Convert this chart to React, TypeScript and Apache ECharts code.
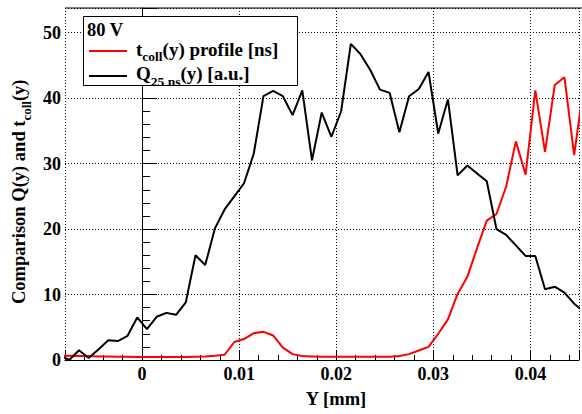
import React, { useEffect, useRef } from 'react';
import * as echarts from 'echarts';

// Bin centres along Y [mm]
const binCenters = [
  -0.0085, -0.0075, -0.0065, -0.0055, -0.0045, -0.0035, -0.0025, -0.0015, -0.0005,
  0.0005, 0.0015, 0.0025, 0.0035, 0.0045, 0.0055, 0.0065, 0.0075, 0.0085, 0.0095,
  0.0105, 0.0115, 0.0125, 0.0135, 0.0145, 0.0155, 0.0165, 0.0175, 0.0185, 0.0195,
  0.0205, 0.0215, 0.0225, 0.0235, 0.0245, 0.0255, 0.0265, 0.0275, 0.0285, 0.0295,
  0.0305, 0.0315, 0.0325, 0.0335, 0.0345, 0.0355, 0.0365, 0.0375, 0.0385, 0.0395,
  0.0405, 0.0415, 0.0425, 0.0435, 0.0445, 0.0455,
];

// t_coll(y) profile [ns]
const tcollProfile = [
  0.65, 0.65, 0.6, 0.6, 0.55, 0.55, 0.5, 0.5, 0.45,
  0.45, 0.45, 0.45, 0.45, 0.45, 0.5, 0.55, 0.65, 0.8, 2.75,
  3.2, 4.1, 4.3, 3.75, 1.9, 0.9, 0.6, 0.55, 0.5, 0.5,
  0.5, 0.5, 0.5, 0.5, 0.5, 0.5, 0.6, 0.9, 1.45, 2.0,
  4.0, 6.2, 10.1, 12.7, 17.1, 21.3, 22.3, 26.5, 33.4, 28.3,
  41.2, 31.8, 42.0, 43.2, 31.3, 42.0,
];

// Q_25ns(y) [a.u.]
const q25ns = [
  0.7, 0.0, 1.5, 0.3, 1.6, 3.0, 2.9, 3.7, 6.5,
  4.7, 6.6, 7.2, 6.9, 8.8, 16.0, 14.5, 20.1, 23.0, 25.0,
  27.0, 31.5, 40.3, 41.1, 40.3, 37.4, 41.2, 30.5, 37.8, 34.1,
  38.0, 48.3, 46.7, 44.3, 41.3, 40.8, 34.8, 40.3, 41.4, 44.0,
  34.6, 39.8, 28.2, 29.7, 28.5, 27.3, 20.0, 19.1, 17.5, 15.9,
  15.9, 10.8, 11.2, 10.3, 8.6, 7.4,
];

const FONT = '"Liberation Serif", "Times New Roman", serif';

const xLabel = (v: number) => {
  const r = Math.round(v * 100);
  if (Math.abs(v * 100 - r) > 1e-6) return '';
  return r === 0 ? '0' : String(r / 100);
};
const yLabel = (v: number) => {
  const r = Math.round(v / 10);
  if (Math.abs(v / 10 - r) > 1e-6) return '';
  return String(r * 10);
};

const legMain = { fontSize: 19, fontWeight: 'bold', fontFamily: FONT, fill: '#000', lineHeight: 29 };
const legSub = { fontSize: 13.5, fontWeight: 'bold', fontFamily: FONT, fill: '#000', lineHeight: 13.5, verticalAlign: 'bottom' };
const ttlMain = { fontSize: 18.5, fontWeight: 'bold', fontFamily: FONT, fill: '#000', lineHeight: 29 };
const ttlSub = { fontSize: 13, fontWeight: 'bold', fontFamily: FONT, fill: '#000', lineHeight: 13, verticalAlign: 'bottom' };

export default function App() {
  const ref = useRef<HTMLDivElement>(null);
  useEffect(() => {
    if (!ref.current) return;
    const chart = echarts.init(ref.current, undefined, { renderer: 'svg' });
    const axisLabelBase = { color: '#000', fontSize: 18, fontWeight: 'bold', fontFamily: FONT };
    chart.setOption({
      animation: false,
      backgroundColor: '#fff',
      grid: { left: 65, top: 8, width: 518, height: 352, containLabel: false },
      xAxis: {
        type: 'value',
        min: -0.00794,
        max: 0.045,
        splitNumber: 5,
        axisLine: { show: true, lineStyle: { color: '#000', width: 1 } },
        axisTick: { show: true, inside: true, length: 10, lineStyle: { color: '#000', width: 1 } },
        minorTick: { show: true, splitNumber: 5, length: 5, lineStyle: { color: '#000', width: 1 } },
        axisLabel: { ...axisLabelBase, margin: 5, formatter: xLabel, showMinLabel: true, showMaxLabel: true },
        splitLine: { show: true, lineStyle: { color: '#000', width: 1, type: [1, 2] } },
      },
      yAxis: {
        type: 'value',
        min: 0,
        max: 53.77,
        interval: 10,
        axisLine: { show: true, lineStyle: { color: '#000', width: 1 } },
        axisTick: { show: true, inside: true, length: 15, lineStyle: { color: '#000', width: 1 } },
        minorTick: { show: true, splitNumber: 5, length: 8, lineStyle: { color: '#000', width: 1 } },
        axisLabel: { ...axisLabelBase, margin: 4, formatter: yLabel, showMinLabel: true, showMaxLabel: true },
        splitLine: { show: true, lineStyle: { color: '#000', width: 1, type: [1, 2] } },
      },
      series: [
        {
          name: 'tcoll',
          type: 'line',
          data: binCenters.map((x, i) => [x, tcollProfile[i]]),
          showSymbol: false,
          symbol: 'none',
          color: '#ff0000',
          lineStyle: { color: '#ff0000', width: 2 },
          clip: true,
          z: 3,
        },
        {
          name: 'q25',
          type: 'line',
          data: binCenters.map((x, i) => [x, q25ns[i]]),
          showSymbol: false,
          symbol: 'none',
          color: '#000000',
          lineStyle: { color: '#000000', width: 2 },
          clip: true,
          z: 4,
        },
      ],
      graphic: [
        {
          type: 'line', z: 50,
          shape: { x1: 65, y1: 8, x2: 582, y2: 8 },
          style: { stroke: '#000', lineWidth: 1 },
        },
        {
          type: 'rect', z: 100,
          shape: { x: 83.5, y: 16.5, width: 214, height: 69 },
          style: { fill: '#fff', stroke: '#000', lineWidth: 1 },
        },
        {
          type: 'text', z: 101, x: 87, y: 30,
          style: { text: '80 V', fill: '#000', fontSize: 18.5, fontWeight: 'bold', fontFamily: FONT, align: 'left', verticalAlign: 'middle' },
        },
        {
          type: 'line', z: 101,
          shape: { x1: 89, y1: 51, x2: 127, y2: 51 },
          style: { stroke: '#ff0000', lineWidth: 2 },
        },
        {
          type: 'text', z: 101, x: 136, y: 34.6,
          style: {
            text: '{m|t}{s|coll}{m|(y) profile [ns]}',
            rich: { m: legMain, s: legSub },
            align: 'left', verticalAlign: 'top',
          },
        },
        {
          type: 'line', z: 101,
          shape: { x1: 89, y1: 76, x2: 127, y2: 76 },
          style: { stroke: '#000', lineWidth: 2 },
        },
        {
          type: 'text', z: 101, x: 136, y: 59.1,
          style: {
            text: '{m|Q}{s|25 ns}{m|(y) [a.u.]}',
            rich: { m: legMain, s: legSub },
            align: 'left', verticalAlign: 'top',
          },
        },
        {
          type: 'text', z: 101, x: 336, y: 399,
          style: { text: 'Y [mm]', fill: '#000', fontSize: 18.5, fontWeight: 'bold', fontFamily: FONT, align: 'center', verticalAlign: 'middle' },
        },
        {
          type: 'text', z: 101, x: 4, y: 304, rotation: Math.PI / 2,
          style: {
            text: '{m|Comparison Q(y) and t}{s|coll}{m|(y)}',
            rich: { m: ttlMain, s: ttlSub },
            align: 'left', verticalAlign: 'top',
          },
        },
      ],
    });
    return () => chart.dispose();
  }, []);
  return <div ref={ref} style={{ position: 'absolute', left: 0, top: 0, width: 582, height: 414, background: '#fff' }} />;
}
